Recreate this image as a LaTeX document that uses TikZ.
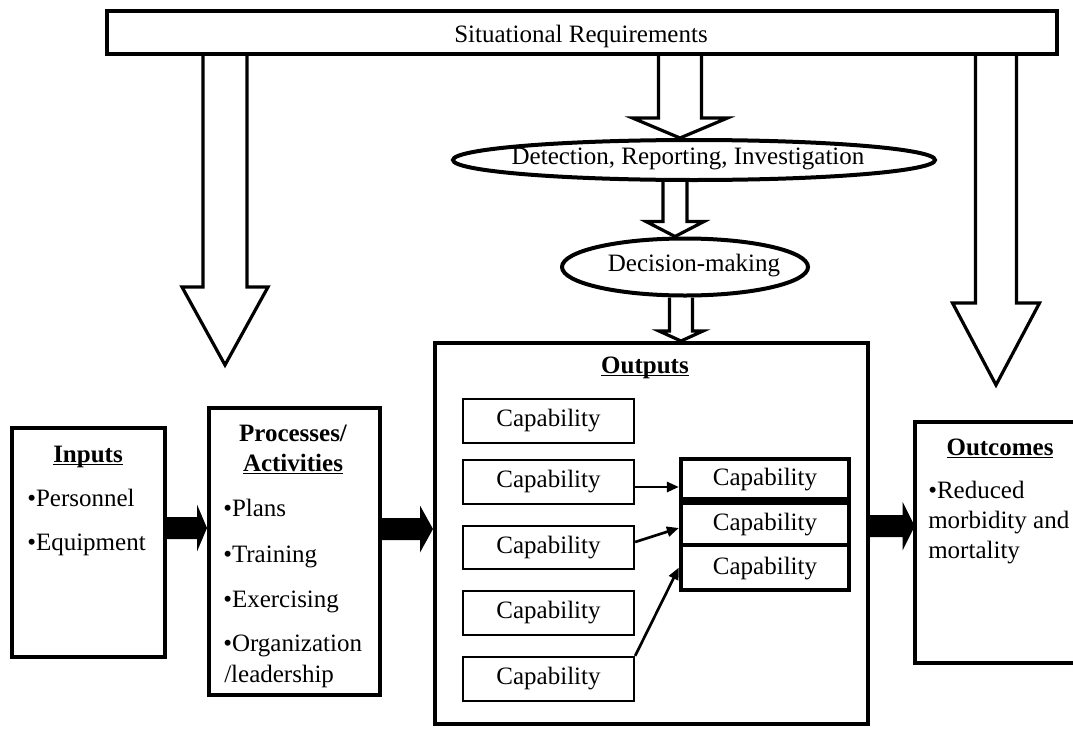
\documentclass[tikz,border=0pt]{standalone}
\usepackage{fontspec}
\setmainfont{Liberation Serif}
\usetikzlibrary{calc,fit,shapes.geometric,arrows.meta}
\pgfdeclarelayer{bgzero}
\pgfdeclarelayer{background}
\pgfsetlayers{bgzero,background,main}
\newsavebox\ulbox
\newcommand\thickul[1]{\sbox\ulbox{#1}\rlap{\rule[-2.6pt]{\wd\ulbox}{1.1pt}}\usebox\ulbox}
% hollow arrow: #1 x(px), #2 top anchor, #3 tip anchor, #4 half shaft, #5 half head, #6 head length
\newcommand\harrow[6]{%
\draw[hollow] let \p1=(#2), \p2=(#3), \n1={(#1)*0.75pt} in
 ({\n1-#4*0.75pt},\y1) -- ({\n1-#4*0.75pt},{\y2+#6*0.75pt}) -- ({\n1-#5*0.75pt},{\y2+#6*0.75pt})
 -- (\n1,\y2) -- ({\n1+#5*0.75pt},{\y2+#6*0.75pt}) -- ({\n1+#4*0.75pt},{\y2+#6*0.75pt}) -- ({\n1+#4*0.75pt},\y1);}
% block arrow: #1 from anchor, #2 to anchor, #3 y(px), #4 half shaft, #5 half head, #6 head length
\newcommand\blockarrow[6]{%
\fill let \p1=(#1), \p2=(#2), \n1={-(#3)*0.75pt} in
 (\x1,{\n1+#4*0.75pt}) -- ({\x2-#6*0.75pt},{\n1+#4*0.75pt}) -- ({\x2-#6*0.75pt},{\n1+#5*0.75pt})
 -- (\x2,\n1) -- ({\x2-#6*0.75pt},{\n1-#5*0.75pt}) -- ({\x2-#6*0.75pt},{\n1-#4*0.75pt})
 -- (\x1,{\n1-#4*0.75pt}) -- cycle;}
\begin{document}
\begin{tikzpicture}[x=0.75pt,y=-0.75pt,
  txt/.style={inner sep=0pt, font=\fontsize{18.75}{22}\selectfont},
  frame/.style={draw, line width=3pt, inner sep=0pt, fill=white},
  barbox/.style={draw, line width=2.5pt, inner sep=0pt, fill=white},
  capbox/.style={draw, line width=1.7pt, inner sep=0pt, fill=white},
  stackbox/.style={draw, line width=3.2pt, inner sep=0pt},
  hollow/.style={draw, fill=white, line width=2.4pt, line join=miter},
  oval/.style={ellipse, draw, line width=3pt, fill=white, inner sep=0pt},
  link/.style={line width=2pt, -{Triangle[length=9pt,width=7.5pt]}},
]
\begin{pgfonlayer}{bgzero}
\fill[white] (0,0) rectangle (1073,728);
\end{pgfonlayer}
\useasboundingbox (0,0) rectangle (1073,728);

% main boxes
\node[barbox, fit={(107,11) (1057,54)}] (bar) {};
\node[txt, anchor=base] (bart) at (581,42) {Situational Requirements};

\node[oval, minimum width=361.5pt, minimum height=30pt] (detE) at (694,160) {};
\node[txt, anchor=base] (dett) at (688,164) {Detection, Reporting, Investigation};
\node[oval, minimum width=184.5pt, minimum height=42.75pt] (decE) at (685,267) {};
\node[txt, anchor=base] (dect) at (694,271) {Decision-making};

\node[frame, fit={(12,428) (165,657)}] (inputs) {};
\node[txt, anchor=base] (inputsT) at (88,462) {\bfseries\thickul{Inputs}};
\node[txt, anchor=base west] (in1) at (27,506) {•Personnel};
\node[txt, anchor=base west] (in2) at (27,550) {•Equipment};

\node[frame, fit={(209,408) (380,695)}] (proc) {};
\node[txt, anchor=base] (procT1) at (293,441) {\bfseries Processes/};
\node[txt, anchor=base] (procT2) at (293,471) {\bfseries\thickul{Activities}};
\node[txt, anchor=base west] (p1) at (223,516) {•Plans};
\node[txt, anchor=base west] (p2) at (223,562) {•Training};
\node[txt, anchor=base west] (p3) at (223,607) {•Exercising};
\node[txt, anchor=base west] (p4) at (223,651) {•Organization};
\node[txt, anchor=base west] (p5) at (224,682) {/leadership};

\node[frame, fit={(435,343) (868,724)}] (outputs) {};
\node[txt, anchor=base] (outT) at (645,373) {\bfseries\thickul{Outputs}};

\node[capbox, fit={(463,399) (634,443)}] (c1) {};
\node[capbox, fit={(463,460) (634,504)}] (c2) {};
\node[capbox, fit={(463,526) (634,569)}] (c3) {};
\node[capbox, fit={(463,591) (634,635)}] (c4) {};
\node[capbox, fit={(463,657) (634,701)}] (c5) {};
\foreach \i in {1,...,5} {\node[txt] (c\i t) at (c\i) {Capability};}

\node[stackbox, fit={(681,459) (849,499)}] (r1) {};
\node[stackbox, fit={(681,503) (849,545)}] (r2) {};
\node[stackbox, fit={(681,545) (849,590)}] (r3) {};
\foreach \i in {1,2,3} {\node[txt] (r\i t) at ($(r\i)+(0,1)$) {Capability};}

\node[inner sep=0pt, fit={(915,422) (1073,663)}] (outc) {};
\draw[line width=3pt] (outc.north east) -- (outc.north west) -- (outc.south west) -- (outc.south east);
\node[txt, anchor=base] (outcT) at (1000,455) {\bfseries\thickul{Outcomes}};
\node[txt, anchor=base west] (o1) at (928,498) {•Reduced};
\node[txt, anchor=base west] (o2) at (928,528) {morbidity and};
\node[txt, anchor=base west] (o3) at (928,558) {mortality};

% free arrow tips
\coordinate (ltip) at (225,365);
\coordinate (rtip) at (996,385);

% hollow arrows behind the boxes
\begin{pgfonlayer}{background}
\harrow{225}{bar.south}{ltip}{22}{43}{78}
\harrow{996}{bar.south}{rtip}{20.5}{43.5}{82}
\harrow{680}{bar.south}{detE.north}{21.5}{47.5}{20}
\harrow{675}{detE.south}{decE.north}{12}{29}{15}
\harrow{681}{decE.south}{outputs.north}{11.5}{22}{10}
\end{pgfonlayer}

% black block arrows
\blockarrow{inputs.east}{proc.west}{528}{11}{23.5}{10}
\blockarrow{proc.east}{outputs.west}{529}{11}{23.5}{13}
\blockarrow{outputs.east}{outc.west}{526}{11}{24}{12}

% links inside outputs
\coordinate (l1s) at ($(c2.east)+(0,5)$);
\draw[link] (l1s) -- (r1.west |- l1s);
\draw[link] ($(c3.east)+(0,-5.5)$) -- ($(r2.west)+(0,4)$);
\draw[link] (c5.north east) -- (r3.west);
\end{tikzpicture}
\end{document}
